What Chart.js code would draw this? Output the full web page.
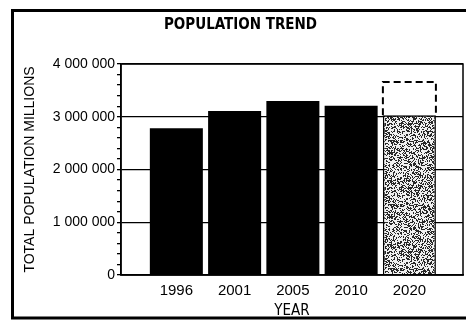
<!DOCTYPE html>
<html>
<head>
<meta charset="utf-8">
<script src="https://cdn.jsdelivr.net/npm/chart.js@4"></script>
<style>
  body { margin: 0; background: #fff; }
</style>
</head>
<body>
<canvas id="popChart" width="466" height="321"></canvas>
<script>
const years = ['1996', '2001', '2005', '2010', '2020'];
const population = [2780000, 3110000, 3300000, 3210000, 3030000];
// projected range on top of the 2020 bar (dashed box)
const projection2020 = [3030000, 3660000];
const yTicksMajor = [0, 1000000, 2000000, 3000000, 4000000];

function fmt(v) {
  return String(v).replace(/\B(?=(\d{3})+(?!\d))/g, ' ');
}

// speckled fill for the 2020 bar
function makeStipple() {
  let c = document.createElement('canvas');
  c.width = 64; c.height = 64;
  let cx = c.getContext('2d');
  let img = cx.createImageData(64, 64);
  for (let y = 0; y < 64; y++) {
    for (let x = 0; x < 64; x++) {
      let h = Math.sin(x * 12.9898 + y * 78.233) * 43758.5453;
      h = h - Math.floor(h);
      let g = h < 0.42 ? 40 : 240;
      let i = (y * 64 + x) * 4;
      img.data[i] = g; img.data[i + 1] = g; img.data[i + 2] = g; img.data[i + 3] = 255;
    }
  }
  cx.putImageData(img, 0, 0);
  return cx.createPattern(c, 'repeat');
}
const stipple = makeStipple();

const framePlugin = {
  id: 'frame',
  beforeDraw(chart) {
    let ctx = chart.ctx;
    ctx.save();
    ctx.fillStyle = '#fff';
    ctx.fillRect(0, 0, chart.width, chart.height);
    ctx.restore();
  },
  afterDatasetsDraw(chart) {
    let ctx = chart.ctx;
    // dashed outline of the projection bar
    let el = chart.getDatasetMeta(1).data[0];
    if (el) {
      let p = el.getProps(['x', 'y', 'base', 'width'], true);
      ctx.save();
      ctx.strokeStyle = '#000';
      ctx.lineWidth = 2;
      ctx.setLineDash([7, 4]);
      ctx.beginPath();
      ctx.moveTo(p.x - p.width / 2, p.base);
      ctx.lineTo(p.x - p.width / 2, p.y);
      ctx.lineTo(p.x + p.width / 2, p.y);
      ctx.lineTo(p.x + p.width / 2, p.base);
      ctx.stroke();
      ctx.restore();
    }
    // plot box
    let a = chart.chartArea;
    ctx.save();
    ctx.strokeStyle = '#000';
    ctx.lineWidth = 1.5;
    ctx.strokeRect(a.left, a.top, a.right - a.left, a.bottom - a.top);
    ctx.restore();
  },
  afterDraw(chart) {
    let ctx = chart.ctx;
    ctx.save();
    ctx.strokeStyle = '#000';
    ctx.lineWidth = 3;
    ctx.beginPath();
    ctx.moveTo(466, 10.5);
    ctx.lineTo(12.5, 10.5);
    ctx.lineTo(12.5, 318);
    ctx.lineTo(466, 318);
    ctx.stroke();
    ctx.restore();
  }
};

let ctxEl = document.getElementById('popChart');

let popChart = new Chart(ctxEl, {
  type: 'bar',
  data: {
    datasets: [{
      label: 'Population',
      data: years.map((y, i) => ({ x: i, y: population[i] })),
      backgroundColor: population.map((v, i) => i === 4 ? stipple : '#000'),
      borderColor: '#000',
      borderWidth: population.map((v, i) => i === 4 ? 1.5 : 0),
      barPercentage: 0.91,
      categoryPercentage: 1,
      grouped: false,
      order: 2
    }, {
      label: 'Projection',
      data: [{ x: 4, y: projection2020 }],
      backgroundColor: 'rgba(0,0,0,0)',
      borderWidth: 0,
      barPercentage: 0.91,
      categoryPercentage: 1,
      grouped: false,
      order: 1
    }]
  },
  options: {
    responsive: false,
    animation: false,
    layout: { padding: { left: 18, right: 3, top: 0, bottom: 1 } },
    plugins: {
      legend: { display: false },
      tooltip: { enabled: false },
      title: {
        display: true,
        text: 'POPULATION TREND',
        color: '#000',
        font: { family: "'DejaVu Sans Condensed', 'DejaVu Sans', sans-serif", size: 15, weight: 'bold', lineHeight: 1.2 },
        padding: { top: 16, bottom: 30 }
      }
    },
    scales: {
      x: {
        type: 'linear',
        min: -0.95,
        max: 4.92,
        offset: false,
        afterBuildTicks: (scale) => { scale.ticks = years.map((y, i) => ({ value: i })); },
        afterFit: (scale) => { scale.height = 45; },
        grid: { display: false, drawTicks: false },
        border: { color: '#000', width: 1.5 },
        ticks: {
          autoSkip: false,
          padding: 7,
          color: '#000',
          font: { family: "'Liberation Sans', Arial, sans-serif", size: 15 },
          callback: (v) => Number.isInteger(v) && years[v] ? years[v] : ''
        },
        title: {
          display: true,
          text: 'YEAR',
          color: '#000',
          font: { family: "'DejaVu Sans Condensed', 'DejaVu Sans', sans-serif", size: 15 },
          padding: { top: 0, bottom: 0 }
        }
      },
      y: {
        min: 0,
        max: 4000000,
        afterFit: (scale) => { scale.width = 103; },
        grid: {
          color: (c) => yTicksMajor.includes(c.tick.value) ? '#000' : 'rgba(0,0,0,0)',
          tickColor: '#000',
          tickLength: 4,
          lineWidth: 1.3
        },
        border: { color: '#000', width: 1.5 },
        ticks: {
          stepSize: 200000,
          autoSkip: false,
          padding: 2,
          color: '#000',
          font: { family: "'Liberation Sans', Arial, sans-serif", size: 14 },
          callback: (v) => yTicksMajor.includes(v) ? fmt(v) : ''
        },
        title: {
          display: true,
          text: 'TOTAL POPULATION MILLIONS',
          color: '#000',
          font: { family: "'Liberation Sans', Arial, sans-serif", size: 14 },
          padding: { top: 4, bottom: 4 }
        }
      }
    }
  },
  plugins: [framePlugin]
});
</script>
</body>
</html>
